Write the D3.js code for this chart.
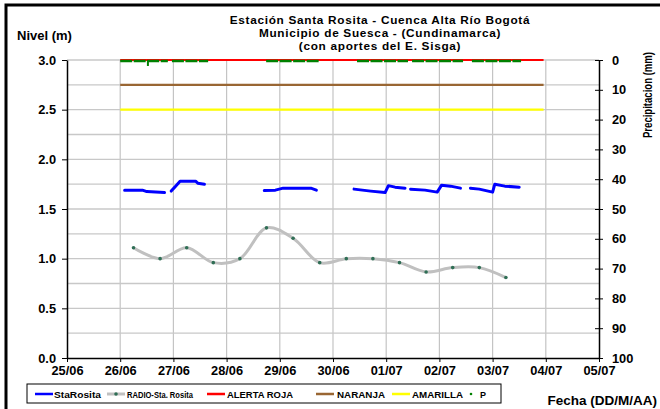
<!DOCTYPE html>
<html><head><meta charset="utf-8">
<script src="https://cdn.jsdelivr.net/npm/d3@7"></script>
<style>
body{margin:0;background:#fff;}
svg text{font-family:"Liberation Sans",Arial,sans-serif;font-weight:bold;fill:#000;}
</style></head>
<body><svg id="c" width="660" height="409"></svg>
<script>
// ---- data ----
const titleLines = ["Estación Santa Rosita - Cuenca Alta Río Bogotá","Municipio de Suesca - (Cundinamarca)","(con aportes del  E. Sisga)"];
const xTickLabels = ["25/06","26/06","27/06","28/06","29/06","30/06","01/07","02/07","03/07","04/07","05/07"];
const yLeftTicks = [0,0.5,1,1.5,2,2.5,3];
const yRightTicks = [0,10,20,30,40,50,60,70,80,90,100];
// StaRosita level (m), segments with gaps
const staRosita = [
  [["26/06 02:00",1.69],["26/06 10:00",1.69],["26/06 12:00",1.675],["26/06 20:00",1.665]],
  [["26/06 23:00",1.68],["27/06 01:00",1.73],["27/06 03:00",1.78],["27/06 10:00",1.78],["27/06 11:00",1.76],["27/06 14:00",1.75]],
  [["28/06 17:00",1.685],["28/06 22:00",1.69],["29/06 01:30",1.71],["29/06 14:00",1.71],["29/06 16:30",1.69]],
  [["30/06 09:30",1.70],["30/06 17:00",1.68],["30/06 23:30",1.665],["01/07 01:00",1.735],["01/07 04:00",1.72],["01/07 08:30",1.71]],
  [["01/07 11:00",1.70],["01/07 17:30",1.69],["01/07 23:00",1.67],["02/07 01:00",1.74],["02/07 05:00",1.73],["02/07 09:30",1.71]],
  [["02/07 14:00",1.71],["02/07 18:00",1.70],["03/07 00:00",1.67],["03/07 01:00",1.75],["03/07 05:30",1.73],["03/07 12:00",1.72]]
];
const radioDates = ["26/06 06:00","26/06 18:00","27/06 06:00","27/06 18:00","28/06 06:00","28/06 18:00","29/06 06:00","29/06 18:00","30/06 06:00","30/06 18:00","01/07 06:00","01/07 18:00","02/07 06:00","02/07 18:00","03/07 06:00"];
const radioValues = [1.11,1.00,1.11,0.96,1.00,1.31,1.205,0.96,1.00,1.00,0.96,0.866,0.91,0.91,0.81];
const alertPeriod = ["26/06 00:00","03/07 23:00"];
const alertaRoja = 3.0, naranja = 2.75, amarilla = 2.5;
// Precipitation (mm): observation runs (value 0) and one non-zero reading
const pRuns = [["26/06 00:00","26/06 21:30",0],["26/06 23:20","27/06 15:40",0],["28/06 17:50","29/06 17:40",0],["30/06 10:50","01/07 09:50",0],["01/07 11:40","02/07 10:40",0],["02/07 14:40","03/07 12:50",0]];
const pPeaks = [["26/06 12:30",2]];
const legendItems = ["StaRosita","RADIO-Sta. Rosita","ALERTA ROJA","NARANJA","AMARILLA","P"];

// ---- chart ----
const parse = d3.timeParse("%d/%m %H:%M");
const svg = d3.select("#c");
const x = d3.scaleTime().domain([parse("25/06 00:00"), parse("05/07 00:00")]).range([67,599]);
const yL = d3.scaleLinear().domain([0,3]).range([358,60]);
const yR = d3.scaleLinear().domain([0,100]).range([60,358]);
const dayTicks = xTickLabels.map(s=>parse(s+" 00:00"));

// outer border
svg.append("rect").attr("x",6).attr("y",5).attr("width",680).attr("height",420).attr("fill","none").attr("stroke","#000").attr("stroke-width",3);

// grid
const g = svg.append("g");
g.selectAll(".vg").data(dayTicks.slice(1,-1)).join("line")
  .attr("x1",d=>x(d)).attr("x2",d=>x(d)).attr("y1",yL(3)).attr("y2",yL(0))
  .attr("stroke","#c4c4c4").attr("stroke-width",1.2);
g.selectAll(".hg").data(d3.range(1,13).map(i=>i*0.25)).join("line")
  .attr("x1",x.range()[0]).attr("x2",x.range()[1]).attr("y1",d=>yL(d)).attr("y2",d=>yL(d))
  .attr("stroke","#c8c8c8").attr("stroke-width",1.3);

// axes
const axL = svg.append("g").attr("transform","translate(67,0)")
  .call(d3.axisLeft(yL).tickValues(yLeftTicks).tickFormat(d3.format(".1f")).tickSize(5).tickSizeOuter(0));
const axR = svg.append("g").attr("transform","translate(599,0)")
  .call(d3.axisRight(yR).tickValues(yRightTicks).tickSize(4).tickSizeOuter(0));
axR.selectAll(".tick line").attr("x1",-4).attr("x2",4);
const axB = svg.append("g").attr("transform","translate(0,358)")
  .call(d3.axisBottom(x).tickValues(dayTicks).tickFormat((d,i)=>xTickLabels[i]).tickSize(4).tickSizeOuter(0));
[axL,axR,axB].forEach(a=>{
  a.selectAll("path").attr("stroke","#000").attr("stroke-width",1.5);
  a.selectAll(".tick line").attr("stroke","#000").attr("stroke-width",1);
  a.selectAll("text").style("font-size","12.8px").style("font-family","'Liberation Sans',Arial,sans-serif").style("font-weight","bold");
});
axL.selectAll("text").attr("x",-11);
axR.selectAll("text").attr("x",13);
axB.selectAll("text").attr("y",8);

// threshold lines
const thr = [[alertaRoja,"#ff0000"],[naranja,"#996633"],[amarilla,"#ffff00"]];
thr.forEach(([v,c])=>{
  svg.append("line").attr("x1",x(parse(alertPeriod[0]))).attr("x2",x(parse(alertPeriod[1])))
    .attr("y1",yL(v)).attr("y2",yL(v)).attr("stroke",c).attr("stroke-width",2.2);
});

// precipitation
svg.selectAll(".prun").data(pRuns).join("line")
  .attr("x1",d=>x(parse(d[0]))).attr("x2",d=>x(parse(d[1])))
  .attr("y1",d=>yR(d[2])+1).attr("y2",d=>yR(d[2])+1)
  .attr("stroke","#008000").attr("stroke-width",2.5).attr("stroke-dasharray","12,1.5");
svg.selectAll(".ppk").data(pPeaks).join("line")
  .attr("x1",d=>x(parse(d[0]))).attr("x2",d=>x(parse(d[0])))
  .attr("y1",yR(0)).attr("y2",d=>yR(d[1]))
  .attr("stroke","#008000").attr("stroke-width",2);

// radio series
const radio = radioDates.map((d,i)=>[parse(d),radioValues[i]]);
svg.append("path").datum(radio)
  .attr("d",d3.line().x(d=>x(d[0])).y(d=>yL(d[1])).curve(d3.curveCatmullRom.alpha(0.5)))
  .attr("fill","none").attr("stroke","#c0c0c0").attr("stroke-width",3);
svg.selectAll(".rd").data(radio).join("circle")
  .attr("cx",d=>x(d[0])).attr("cy",d=>yL(d[1])).attr("r",1.8).attr("fill","#2f6e55");

// StaRosita
const lineSta = d3.line().x(d=>x(parse(d[0]))).y(d=>yL(d[1]));
svg.selectAll(".sta").data(staRosita).join("path")
  .attr("d",lineSta).attr("fill","none").attr("stroke","#0000ff").attr("stroke-width",3)
  .attr("stroke-linejoin","round").attr("stroke-linecap","round");

// titles
svg.selectAll(".tt").data(titleLines).join("text")
  .attr("x",380).attr("y",(d,i)=>24+i*13).attr("text-anchor","middle")
  .style("font-size","11.8px").style("letter-spacing","0.7px").text(d=>d);
svg.append("text").attr("x",17).attr("y",40).style("font-size","13px").text("Nivel (m)");
svg.append("text").attr("transform","translate(652,95) rotate(-90)").attr("text-anchor","middle")
  .style("font-size","13.5px").attr("textLength",86).attr("lengthAdjust","spacingAndGlyphs").text("Precipitacion (mm)");
svg.append("text").attr("x",657).attr("y",405).attr("text-anchor","end").style("font-size","13.5px").text("Fecha (DD/M/AA)");

// legend
const lg = svg.append("g");
lg.append("rect").attr("x",27).attr("y",384).attr("width",474).attr("height",19)
  .attr("fill","#fff").attr("stroke","#000").attr("stroke-width",1);
const lx = [35,107,207,316,392,468];
const ltx = [54,127,227,337,412,480];
const lw = [47,66,66,48,51,6];
const lcol = ["#0000ff","#c0c0c0","#ff0000","#996633","#ffff00",null];
legendItems.forEach((t,i)=>{
  if(lcol[i]) lg.append("line").attr("x1",lx[i]).attr("x2",lx[i]+18).attr("y1",394).attr("y2",394)
    .attr("stroke",lcol[i]).attr("stroke-width",i===1?3:2.5);
  if(i===1) lg.append("circle").attr("cx",lx[i]+9).attr("cy",394).attr("r",1.8).attr("fill","#2f6e55");
  if(i===5) lg.append("circle").attr("cx",lx[i]+3).attr("cy",394).attr("r",1.3).attr("fill","#008000");
  lg.append("text").attr("x",ltx[i]).attr("y",397.5)
    .style("font-size","8.8px").attr("textLength",lw[i]).attr("lengthAdjust","spacingAndGlyphs").text(t);
});
</script></body></html>
